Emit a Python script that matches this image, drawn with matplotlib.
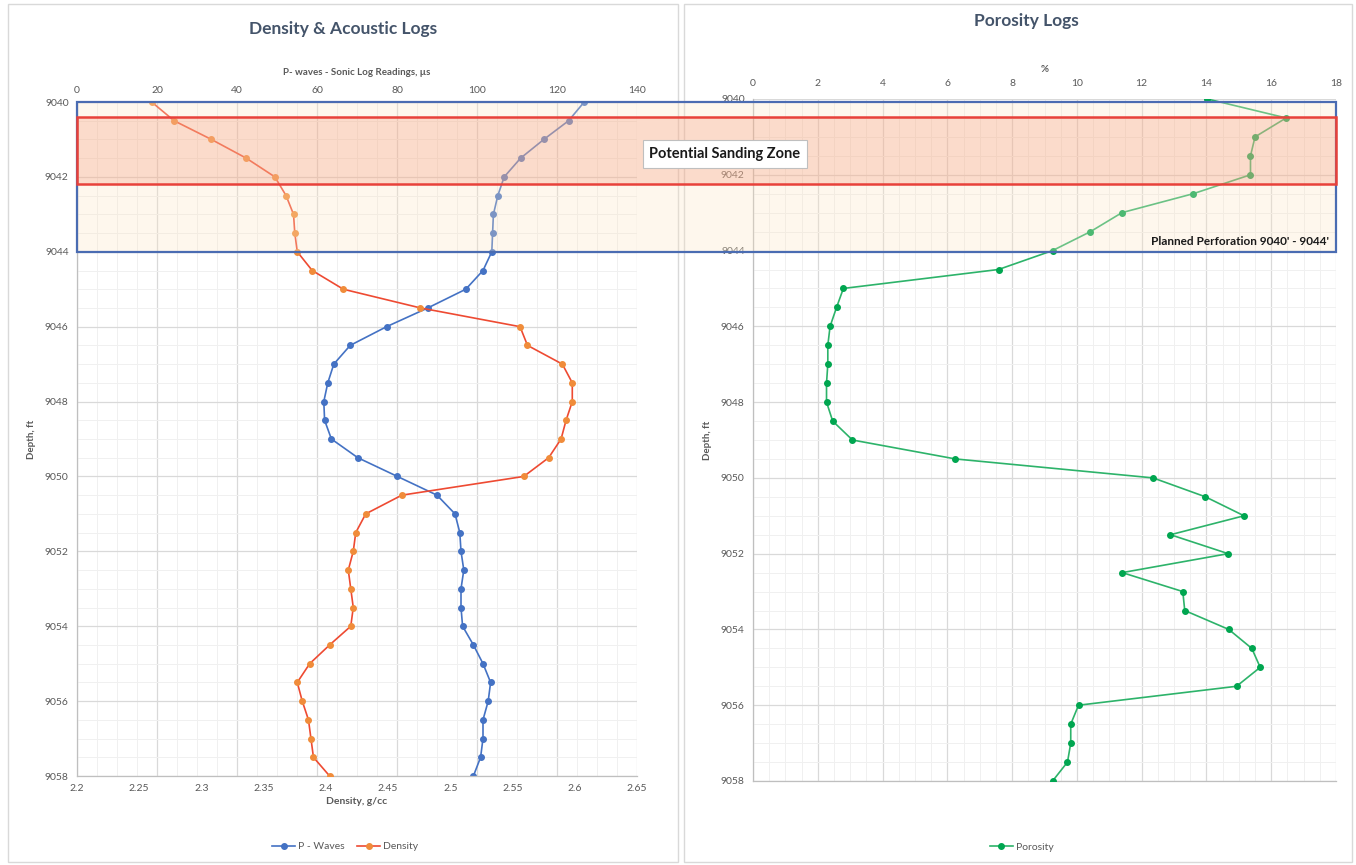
import matplotlib
matplotlib.use("Agg")
import matplotlib.pyplot as plt
import matplotlib.transforms as mtransforms
from matplotlib.patches import Rectangle
import numpy as np

plt.rcParams['font.family'] = ['Lato', 'DejaVu Sans']

# depth samples, ft (every half foot)
depth = [9040 + 0.5 * i for i in range(37)]

density = [2.260, 2.278, 2.308, 2.336, 2.359, 2.368, 2.374, 2.375, 2.377, 2.389,
           2.414, 2.476, 2.556, 2.562, 2.590, 2.598, 2.598, 2.593, 2.589, 2.579,
           2.559, 2.461, 2.432, 2.424, 2.422, 2.418, 2.420, 2.422, 2.420, 2.403,
           2.387, 2.377, 2.381, 2.386, 2.388, 2.390, 2.403]

p_waves = [126.8, 122.9, 116.7, 110.9, 106.8, 105.2, 104.1, 103.9, 103.7, 101.5,
           97.2, 87.7, 77.4, 68.3, 64.2, 62.7, 61.7, 61.9, 63.6, 70.2,
           80.1, 90.0, 94.5, 95.7, 96.0, 96.7, 96.0, 96.0, 96.4, 99.1,
           101.5, 103.4, 102.8, 101.5, 101.5, 100.9, 99.1]

porosity = [14.03, 16.46, 15.50, 15.36, 15.36, 13.59, 11.39, 10.42, 9.25, 7.58,
            2.79, 2.58, 2.38, 2.31, 2.31, 2.27, 2.27, 2.46, 3.07, 6.25,
            12.35, 13.97, 15.16, 12.89, 14.67, 11.40, 13.27, 13.33, 14.69, 15.40,
            15.66, 14.93, 10.05, 9.81, 9.81, 9.71, 9.25]

depth_ticks = list(range(9040, 9060, 2))
density_ticks = [2.2, 2.25, 2.3, 2.35, 2.4, 2.45, 2.5, 2.55, 2.6, 2.65]
density_labels = ['2.2', '2.25', '2.3', '2.35', '2.4', '2.45', '2.5', '2.55', '2.6', '2.65']
pwave_ticks = list(range(0, 160, 20))
porosity_ticks = list(range(0, 20, 2))

sanding_zone = (9040.4, 9042.2)
perforation = (9040, 9044)

W, H = 1356, 865
fig = plt.figure(figsize=(W / 100, H / 100), dpi=100)

TXT = '#595959'
TITLE = '#44546a'
GRID = '#d9d9d9'
MINOR = '#f0f0f0'


def px(x0, y0, x1, y1):
    return [x0 / W, 1 - y1 / H, (x1 - x0) / W, (y1 - y0) / H]


# chart area frames
for x0, x1 in [(8, 678), (684, 1352)]:
    fig.patches.append(Rectangle((x0 / W, 3 / H), (x1 - x0) / W, 858 / H,
                                 transform=fig.transFigure, facecolor='white',
                                 edgecolor='#d9d9d9', lw=1, zorder=-5))


def style_depth_axis(ax, grid=True):
    ax.set_facecolor('none')
    ax.set_ylim(9058, 9040)
    ax.set_yticks(depth_ticks)
    ax.set_yticks(np.arange(9040, 9058.01, 0.5), minor=True)
    ax.tick_params(axis='y', which='both', length=0, labelsize=7.5,
                   labelcolor=TXT, pad=6)
    if grid:
        ax.grid(axis='y', which='major', color=GRID, lw=0.9)
        ax.grid(axis='y', which='minor', color=MINOR, lw=0.7)
    ax.set_ylabel('Depth, ft', fontsize=7, color=TXT, fontweight='bold', labelpad=6)
    for s in ['top', 'right']:
        ax.spines[s].set_visible(False)
    for s in ['left', 'bottom']:
        ax.spines[s].set_color('#bfbfbf')
        ax.spines[s].set_linewidth(0.9)
    ax.set_axisbelow(True)


# ---- left chart: density & acoustic ----
ax1 = fig.add_axes(px(77, 102, 637, 776))
style_depth_axis(ax1, grid=False)
ax1.set_xlim(2.2, 2.65)
ax1.set_xticks(density_ticks)
ax1.set_xticklabels(density_labels)
ax1.tick_params(axis='x', length=0, labelsize=7.5, labelcolor=TXT, pad=6)
ax1.set_xlabel('Density, g/cc', fontsize=7.5, color=TXT, fontweight='bold', labelpad=3)

# top axis (P-waves) sits behind and carries all the gridlines
ax2 = ax1.twiny()
ax2.set_xlim(0, 140)
ax2.set_xticks(pwave_ticks)
ax2.set_xticks(np.arange(0, 141, 5), minor=True)
ax2.tick_params(axis='x', which='both', length=0, labelsize=7.5, labelcolor=TXT, pad=5)
ax2.yaxis.set_visible(True)
ax2.tick_params(axis='y', which='both', left=False, right=False,
                labelleft=False, labelright=False)
ax2.grid(axis='x', which='major', color=GRID, lw=0.9)
ax2.grid(axis='x', which='minor', color=MINOR, lw=0.7)
ax2.grid(axis='y', which='major', color=GRID, lw=0.9)
ax2.grid(axis='y', which='minor', color=MINOR, lw=0.7)
ax2.set_axisbelow(True)
for s in ax2.spines.values():
    s.set_visible(False)
ax2.set_xlabel('P- waves - Sonic Log Readings, µs', fontsize=7, color=TXT,
               fontweight='bold', labelpad=8)

l1, = ax2.plot(p_waves, depth, color='#4472c4', lw=1.2, marker='o', ms=4,
               mfc='#4472c4', mec='#4472c4', label='P - Waves', zorder=3)
l2, = ax1.plot(density, depth, color='#ee4a32', lw=1.2, marker='o', ms=4,
               mfc='#f08c3a', mec='#f08c3a', label='Density', zorder=3)
ax1.set_zorder(1)
ax2.set_zorder(0)

fig.text(343 / W, 1 - 29 / H, 'Density & Acoustic Logs', fontsize=12.5,
         fontweight='bold', color=TITLE, ha='center', va='center')

ax1.legend(handles=[l1, l2], loc='center', bbox_to_anchor=(0.479, -0.105),
           ncol=2, frameon=False, fontsize=7.5, labelcolor=TXT,
           handlelength=2.2, columnspacing=1.2, handletextpad=0.3)

# ---- right chart: porosity ----
ax3 = fig.add_axes(px(753, 99, 1336, 781))
style_depth_axis(ax3)
ax3.set_xlim(0, 18)
ax3.xaxis.tick_top()
ax3.xaxis.set_label_position('top')
ax3.set_xticks(porosity_ticks)
ax3.set_xticks(np.arange(0, 18.01, 0.5), minor=True)
ax3.tick_params(axis='x', which='both', length=0, labelsize=7.5, labelcolor=TXT, pad=8)
ax3.grid(axis='x', which='major', color=GRID, lw=0.9)
ax3.grid(axis='x', which='minor', color=MINOR, lw=0.7)
ax3.set_xlabel('%', fontsize=7, color=TXT, fontweight='bold', labelpad=5)

l3, = ax3.plot(porosity, depth, color='#2db36a', lw=1.2, marker='o', ms=4,
               mfc='#00a650', mec='#00a650', label='Porosity', zorder=3)
fig.text(1026 / W, 1 - 21 / H, 'Porosity Logs', fontsize=12.5, fontweight='bold',
         color=TITLE, ha='center', va='center')
ax3.legend(handles=[l3], loc='center', bbox_to_anchor=(0.461, -0.097),
           frameon=False, fontsize=7.5, labelcolor=TXT, handlelength=2.2,
           handletextpad=0.3)

# ---- zone overlays spanning both charts ----
blend = mtransforms.blended_transform_factory(fig.transFigure, ax1.transData)
x_left = 77 / W
x_right = 1336 / W
fig.patches.append(Rectangle((x_left, perforation[0]), x_right - x_left,
                             perforation[1] - perforation[0], transform=blend,
                             facecolor='#fde6c4', alpha=0.3, edgecolor='none',
                             zorder=5))
fig.patches.append(Rectangle((x_left, perforation[0]), x_right - x_left,
                             perforation[1] - perforation[0], transform=blend,
                             facecolor='none', edgecolor='#4a6cb2', lw=1.6,
                             zorder=6))
fig.patches.append(Rectangle((x_left, sanding_zone[0]), x_right - x_left,
                             sanding_zone[1] - sanding_zone[0], transform=blend,
                             facecolor='#f4845f', alpha=0.24, edgecolor='none',
                             zorder=6))
fig.patches.append(Rectangle((x_left, sanding_zone[0]), x_right - x_left,
                             sanding_zone[1] - sanding_zone[0], transform=blend,
                             facecolor='none', edgecolor='#e8413a', lw=1.8,
                             zorder=7))

fig.text(725 / W, 9041.39, 'Potential Sanding Zone', transform=blend,
         fontsize=10.5, fontweight='bold', color='#1a1a1a', ha='center',
         va='center', zorder=8,
         bbox=dict(boxstyle='square,pad=0.45', facecolor='white',
                   edgecolor='#bfbfbf', lw=0.8))
fig.text(1329 / W, 9043.72, "Planned Perforation 9040' - 9044'", transform=blend,
         fontsize=8.5, fontweight='bold', color='#1a1a1a', ha='right',
         va='center', zorder=8)

fig.savefig('out.png', dpi=100)
